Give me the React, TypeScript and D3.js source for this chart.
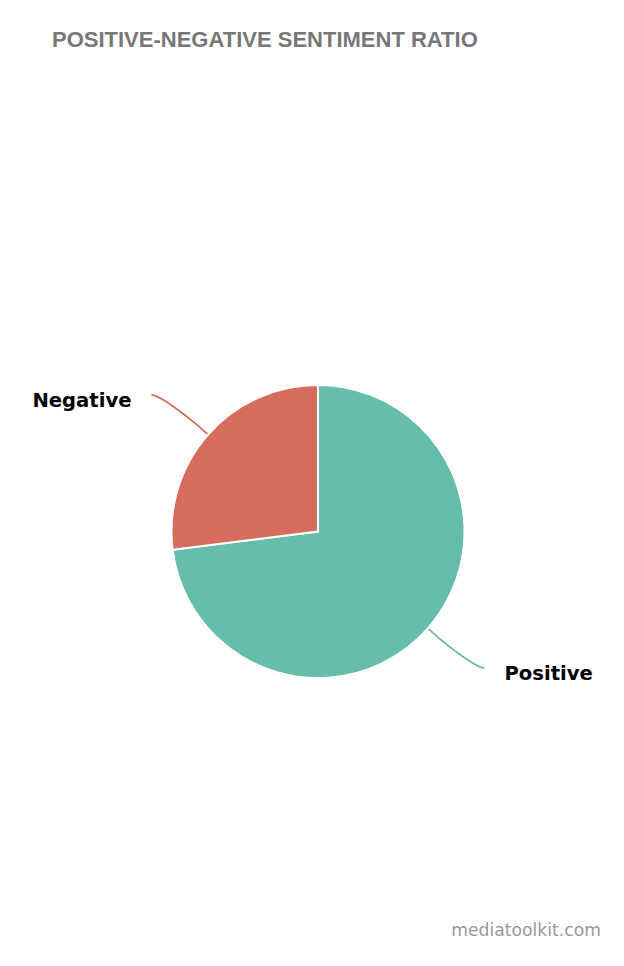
import React, { useEffect, useRef } from 'react';
import * as d3 from 'd3';

const categories = ['Positive', 'Negative'];
const shares = [73, 27];
const colors = ['#66bdac', '#d66c5c'];

const title = 'POSITIVE-NEGATIVE SENTIMENT RATIO';
const credit = 'mediatoolkit.com';

const App: React.FC = () => {
  const svgRef = useRef<SVGSVGElement>(null);

  useEffect(() => {
    if (!svgRef.current) return;
    const svg = d3.select(svgRef.current);
    svg.selectAll('*').remove();

    const width = 624;
    const height = 966;
    const cx = 318;
    const cy = 531.5;
    const radius = 146.5;

    svg.attr('width', width).attr('height', height);

    svg.append('rect').attr('width', width).attr('height', height).attr('fill', '#fff');

    // title
    svg.append('text')
      .attr('x', 52)
      .attr('y', 47)
      .style('font-family', '"Liberation Sans", Arial, sans-serif')
      .style('font-size', '22px')
      .style('font-weight', 'bold')
      .attr('fill', '#777')
      .text(title);

    const data = categories.map((c, i) => ({ name: c, value: shares[i], color: colors[i] }));
    const pie = d3.pie<typeof data[number]>().sort(null).value((d) => d.value);
    const arcs = pie(data);
    const arc = d3.arc<d3.PieArcDatum<typeof data[number]>>().innerRadius(0).outerRadius(radius);

    const g = svg.append('g').attr('transform', `translate(${cx},${cy})`);

    // connectors + labels
    arcs.forEach((a) => {
      const mid = (a.startAngle + a.endAngle) / 2;
      const sx = Math.sin(mid);
      const sy = -Math.cos(mid);
      const side = sx >= 0 ? 1 : -1;
      const touch: [number, number] = [sx * radius, sy * radius];
      const brk: [number, number] = [sx * (radius + 14), sy * (radius + 14)];
      const end: [number, number] = [side * (radius + 20), sy * (radius + 60)];
      const p = d3.path();
      p.moveTo(end[0], end[1]);
      p.bezierCurveTo(end[0] - side * 8, end[1], 2 * brk[0] - touch[0], 2 * brk[1] - touch[1], brk[0], brk[1]);
      p.lineTo(touch[0], touch[1]);
      g.append('path')
        .attr('d', p.toString())
        .attr('fill', 'none')
        .attr('stroke', a.data.color)
        .attr('stroke-width', 1.8);

      g.append('text')
        .attr('x', end[0] + side * 20)
        .attr('y', end[1] + 12)
        .attr('text-anchor', side > 0 ? 'start' : 'end')
        .style('font-family', '"DejaVu Sans", sans-serif')
        .style('font-size', '19.6px')
        .style('font-weight', 'bold')
        .attr('fill', '#000')
        .text(a.data.name);
    });

    g.selectAll('.slice')
      .data(arcs)
      .enter()
      .append('path')
      .attr('class', 'slice')
      .attr('d', arc)
      .attr('fill', (d) => d.data.color)
      .attr('stroke', '#fff')
      .attr('stroke-width', 2)
      .attr('stroke-linejoin', 'round');

    // credit
    svg.append('text')
      .attr('x', 601)
      .attr('y', 936)
      .attr('text-anchor', 'end')
      .style('font-family', '"DejaVu Sans", sans-serif')
      .style('font-size', '17.2px')
      .attr('fill', '#999')
      .text(credit);
  }, []);

  return (
    <div style={{ position: 'absolute', top: 0, left: 0 }}>
      <svg ref={svgRef} style={{ display: 'block' }}></svg>
    </div>
  );
};

export default App;
